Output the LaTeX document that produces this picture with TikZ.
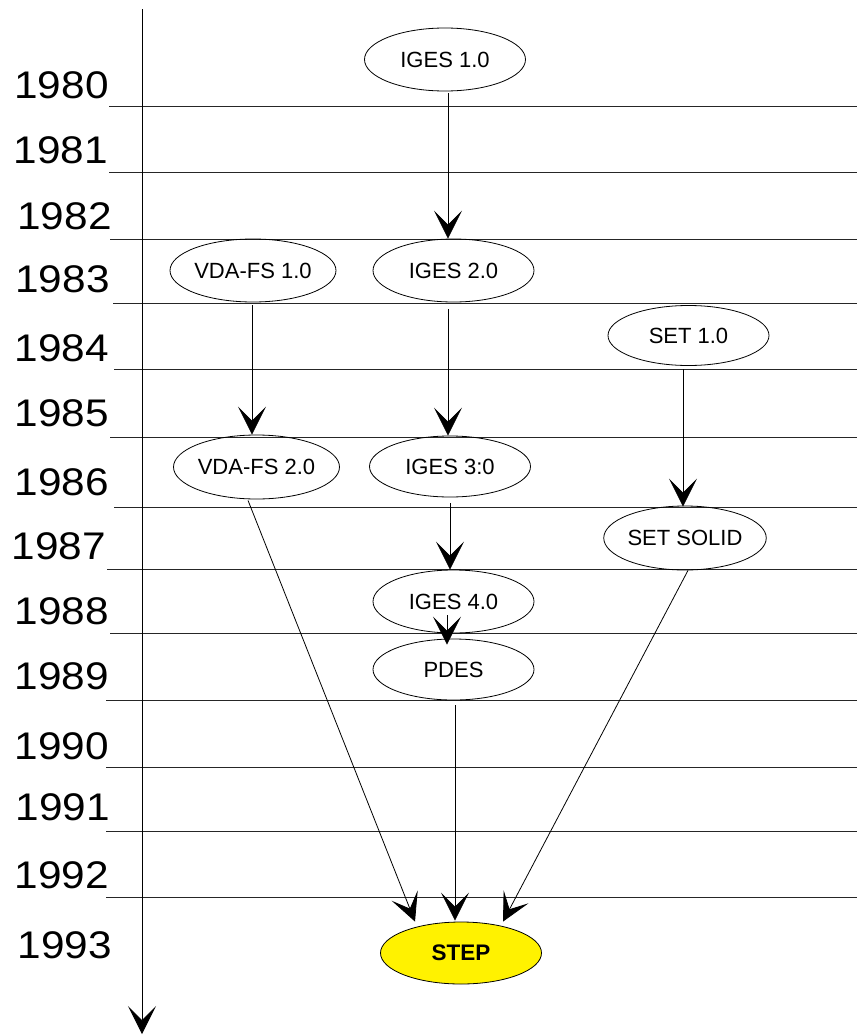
\documentclass[tikz,border=0pt]{standalone}
\usepackage{fontspec}
\usepackage{graphicx}
\setmainfont{Liberation Sans}
\usetikzlibrary{arrows.meta,shapes.geometric}
\begin{document}
\begin{tikzpicture}[x=1pt,y=-1pt,
  rule/.style={line width=0.8pt, black!85},
  conn/.style={line width=0.8pt, -{Stealth[length=28pt,width=28pt,inset=14pt]}},
  stage/.style={draw, line width=0.8pt, ellipse, minimum width=161pt,
    minimum height=63pt, inner sep=0pt, font=\fontsize{22}{24}\selectfont},
  final/.style={stage, fill=yellow, font=\fontsize{22.5}{24}\selectfont\bfseries},
  yearlbl/.style={inner sep=0pt, font=\fontsize{38.5}{40}\selectfont},
]
\useasboundingbox (0,0) rectangle (857,1036);

% year grid lines: y position and left end
\foreach \yy/\xs in {106/109,172/109,239/110,303/113,369/114,437/110,507/114,
                     569/107,633/110,700/106,767/106,831/106,897/106}
  \draw[rule] (\xs,\yy) -- (857,\yy);

% year labels
\foreach \yr/\cx/\cy in {1980/61.5/85.5,1981/61/150,1982/64.5/216.5,1983/62.5/279,
                         1984/62/348.5,1985/62/413.5,1986/62/482,1987/59/546,
                         1988/62/611.5,1989/62/676.5,1990/62/746.5,1991/63/807,
                         1992/62/875.5,1993/65/945}
  \node[yearlbl] (y\yr) at (\cx,\cy) {\scalebox{1.1}[1]{\yr}};

% time axis
\coordinate (axtop) at (142,9);
\coordinate (axbot) at (142,1034);
\draw[conn] (axtop) -- (axbot);

% standards
\node[stage] (i1)   at (445,59.5)   {IGES 1.0};
\node[stage] (v1)   at (253,270.5)  {VDA-FS 1.0};
\node[stage] (i2)   at (453.5,270.5){IGES 2.0};
\node[stage, minimum height=60pt] (s1) at (688.5,335.5) {SET 1.0};
\node[stage, minimum height=64pt] (v2) at (256.5,467) {VDA-FS 2.0};
\node[stage, minimum height=61pt] (i3) at (450,466.5) {IGES 3:0};
\node[stage, minimum height=64pt] (ss) at (685,538) {SET SOLID};
\node[stage] (i4)   at (453.5,601.5){IGES 4.0};
\node[stage, minimum height=61pt] (pdes) at (453.5,669.5) {PDES};
\node[final, minimum height=62pt] (step) at (461,953) {STEP};

% evolution arrows
\draw[conn] ([xshift=3,yshift=-2]i1.south) -- ([xshift=-5.5]i2.north);
\draw[conn] ([xshift=-1,yshift=-3]v1.south) -- ([xshift=-4.5]v2.north);
\draw[conn] ([xshift=-5.5,yshift=-7]i2.south) -- ([xshift=-2]i3.north);
\draw[conn] ([xshift=-5.5,yshift=-3.5]s1.south) -- ([xshift=-2,yshift=-1]ss.north);
\draw[conn] ([yshift=-6]i3.south) -- ([xshift=-3.5]i4.north);
\draw[conn] ([xshift=-6.5,yshift=18]i4.south) -- ([xshift=-6.5,yshift=-6]pdes.north);
\draw[conn] ([xshift=1.5,yshift=-5]pdes.south) -- ([xshift=-6,yshift=1]step.north);
\draw[conn] ([xshift=-8.5,yshift=-1]v2.south) -- ([xshift=-46]step.north);
\draw[conn] ([xshift=3]ss.south) -- ([xshift=42]step.north);
\end{tikzpicture}
\end{document}
